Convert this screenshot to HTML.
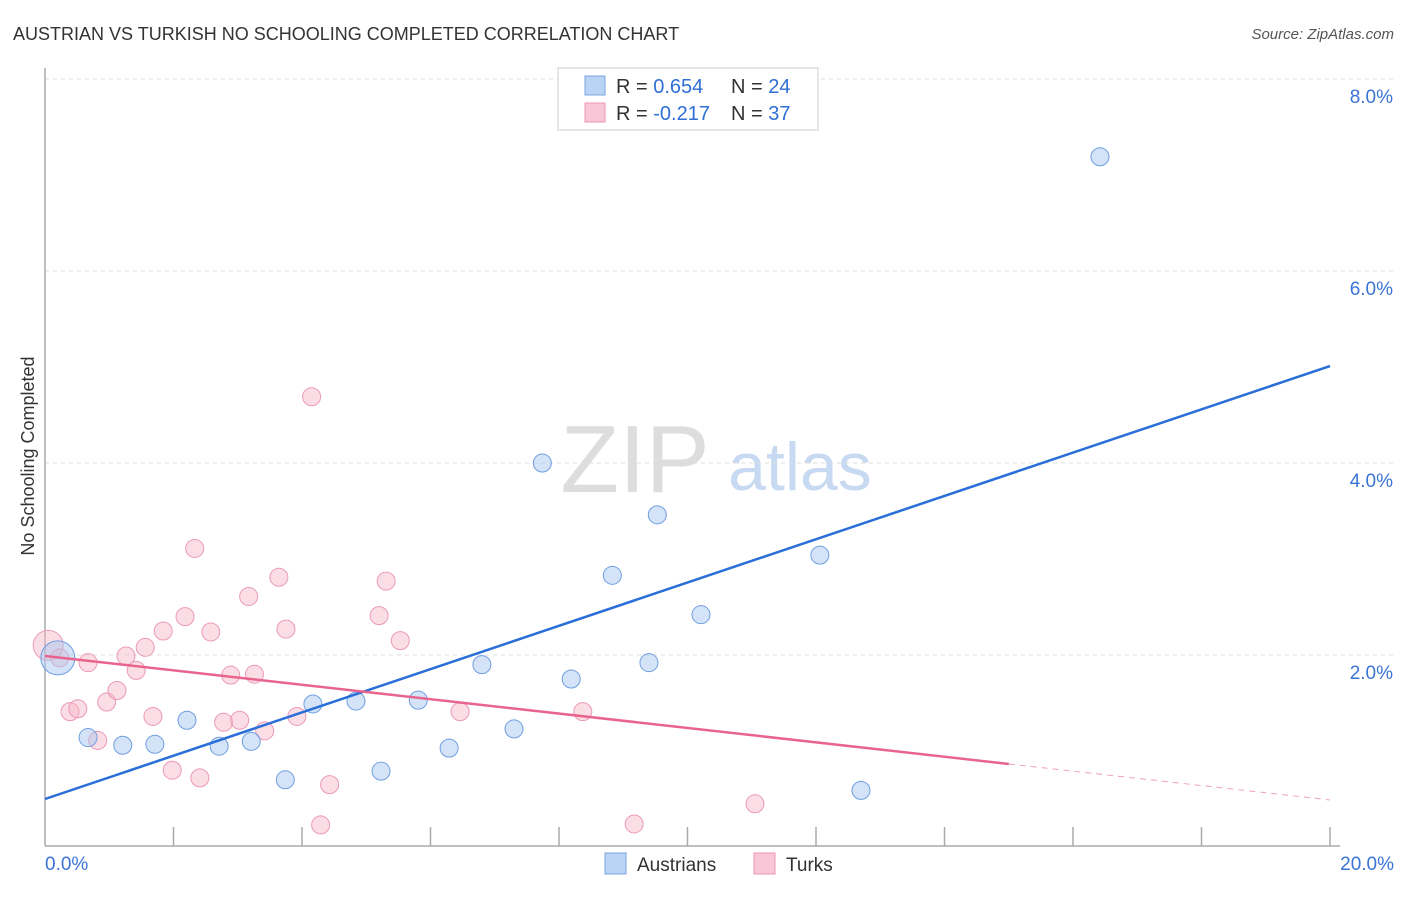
<!DOCTYPE html>
<html><head><meta charset="utf-8"><style>
body{margin:0;background:#fff;font-family:"Liberation Sans",sans-serif}
svg text{font-family:"Liberation Sans",sans-serif}
</style></head><body>
<svg id="chart" width="1406" height="892">
<text x="13" y="40" font-size="18" fill="#333">AUSTRIAN VS TURKISH NO SCHOOLING COMPLETED CORRELATION CHART</text>
<text x="1394" y="39" font-size="15" fill="#555" font-style="italic" text-anchor="end">Source: ZipAtlas.com</text>
<text x="635" y="492" font-size="96" fill="#ddd" font-family="Liberation Serif" text-anchor="middle">ZIP</text>
<text x="800" y="490" font-size="68" fill="#c8daf2" text-anchor="middle">atlas</text>
<text transform="translate(34,456) rotate(-90)" font-size="18" fill="#333" text-anchor="middle">No Schooling Completed</text>
<g id="grid"></g><g id="axes"></g><g id="pts"></g><g id="lines"></g>
<g>
<rect x="558" y="68" width="260" height="62" fill="#fff" stroke="#ccc"/>
<rect x="585" y="76" width="20" height="19" fill="#b9d3f5" stroke="#7aa6e0"/>
<rect x="585" y="103" width="20" height="19" fill="#f8c6d6" stroke="#ec97b3"/>
<text x="616" y="93" font-size="20" fill="#333">R = <tspan fill="#2f6fd6">0.654</tspan><tspan x="731">N = </tspan><tspan fill="#2f6fd6">24</tspan></text>
<text x="616" y="120" font-size="20" fill="#333">R = <tspan fill="#2f6fd6">-0.217</tspan><tspan x="731">N = </tspan><tspan fill="#2f6fd6">37</tspan></text>
</g>
<g>
<rect x="605" y="853" width="21" height="21" fill="#b9d3f5" stroke="#7aa6e0"/>
<text x="637" y="871" font-size="19" fill="#333">Austrians</text>
<rect x="754" y="853" width="21" height="21" fill="#f8c6d6" stroke="#ec97b3"/>
<text x="786" y="871" font-size="19" fill="#333">Turks</text>
</g>
</svg>
<script>
const blueX=[0.2,0.67,1.21,1.71,2.21,2.71,3.21,3.74,4.17,4.84,5.23,5.81,6.29,6.80,7.30,7.74,8.19,8.83,9.40,9.53,10.21,12.06,12.70,16.42];
const blueY=[1.97,1.14,1.06,1.07,1.32,1.05,1.10,0.70,1.49,1.52,0.79,1.53,1.03,1.90,1.23,4.00,1.75,2.83,1.92,3.46,2.42,3.04,0.59,7.19];
const pinkX=[0.05,0.23,0.67,0.39,0.51,0.82,0.96,1.12,1.26,1.42,1.56,1.68,1.84,1.98,2.18,2.33,2.41,2.58,2.78,2.89,3.03,3.17,3.26,3.42,3.64,3.75,3.92,4.15,4.29,4.43,5.20,5.31,5.53,6.46,8.37,9.17,11.05];
const pinkY=[2.1,1.97,1.92,1.41,1.44,1.11,1.51,1.63,1.99,1.84,2.08,1.36,2.25,0.80,2.40,3.11,0.72,2.24,1.30,1.79,1.32,2.61,1.80,1.21,2.81,2.27,1.36,4.69,0.23,0.65,2.41,2.77,2.15,1.41,1.41,0.24,0.45];
const yTicks=[2,4,6,8];
const yTickLabels=["2.0%","4.0%","6.0%","8.0%"];
const blueTrend=[0.5,5.01];
const pinkTrend=[1.99,0.49];
const pinkSolidEnd=15;
const NS="http://www.w3.org/2000/svg";
const sx=v=>45+v*64.25, sy=v=>847-v*96;
function mk(tag,attrs,parent){const e=document.createElementNS(NS,tag);for(const k in attrs)e.setAttribute(k,attrs[k]);document.getElementById(parent).appendChild(e);return e;}
yTicks.forEach((t,i)=>{
 const l=mk('line',{x1:45,x2:1394,y1:sy(t),y2:sy(t),stroke:'#ddd','stroke-dasharray':'4,4'},'grid');
 
 
 const tx=mk('text',{x:1393,y:sy(t)+24,'font-size':19,fill:'#3a74d6','text-anchor':'end'},'grid');
 tx.textContent=yTickLabels[i];
 
 
});
const topg=mk('line',{x1:45,x2:1394,y1:79,y2:79,stroke:'#ddd','stroke-dasharray':'4,4'},'grid');


const ya=mk('line',{x1:45,x2:45,y1:68,y2:846,stroke:'#aaa','stroke-width':1.5},'axes');


const xa=mk('line',{x1:45,x2:1340,y1:846,y2:846,stroke:'#aaa','stroke-width':1.5},'axes');


for(let i=1;i<=10;i++){
 const t=mk('line',{x1:sx(i*2),x2:sx(i*2),y1:827,y2:846,stroke:'#aaa','stroke-width':1.5},'axes');
 
 
}
const x0=mk('text',{x:45,y:870,'font-size':19,fill:'#3a74d6'},'axes');x0.textContent='0.0%';


const x1=mk('text',{x:1394,y:870,'font-size':19,fill:'#3a74d6','text-anchor':'end'},'axes');x1.textContent='20.0%';


pinkX.forEach((x,i)=>{
 const c=mk('circle',{cx:sx(x),cy:sy(pinkY[i]),r:i===0?15:9,fill:'rgba(246,180,200,0.45)',stroke:'#eb9ab5','stroke-width':1},'pts');
 
 
});
blueX.forEach((x,i)=>{
 const c=mk('circle',{cx:sx(x),cy:sy(blueY[i]),r:i===0?17:9,fill:'rgba(170,200,240,0.5)',stroke:'#6e9fe0','stroke-width':1},'pts');
 
 
});
const bl=mk('line',{x1:sx(0),y1:sy(blueTrend[0]),x2:sx(20),y2:sy(blueTrend[1]),stroke:'#2a6fd8','stroke-width':2.5},'lines');


const pm=pinkTrend[0]+(pinkTrend[1]-pinkTrend[0])*pinkSolidEnd/20;
const pl=mk('line',{x1:sx(0),y1:sy(pinkTrend[0]),x2:sx(pinkSolidEnd),y2:sy(pm),stroke:'#e8648f','stroke-width':2.5},'lines');


const pd=mk('line',{x1:sx(pinkSolidEnd),y1:sy(pm),x2:sx(20),y2:sy(pinkTrend[1]),stroke:'#e8648f','stroke-width':1,'stroke-dasharray':'6,5',opacity:0.6},'lines');


</script>
</body></html>
